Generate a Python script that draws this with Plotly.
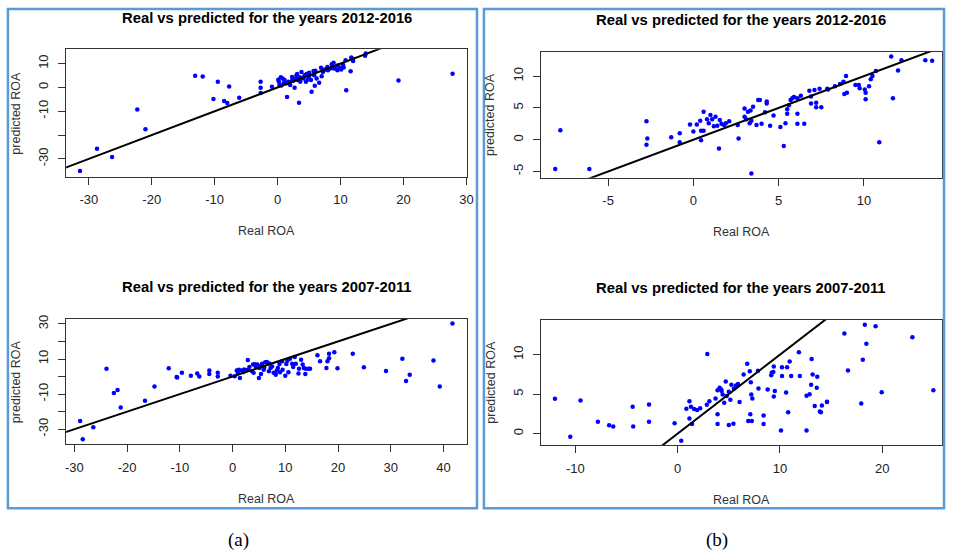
import plotly.graph_objects as go

# ---------------- data ----------------
# (a) top : Real vs predicted for the years 2012-2016
a1_real = [-31.4, -28.7, -26.3, -22.3, -21.0, -13.1, -11.9, -9.5, -10.2, -7.7, -8.5, -8.0, -6.1,
           -2.7, -2.7, -2.7, -0.9, 1.5, 3.4, 5.4, 10.9, 19.2, 27.8, 11.6,
           0.1, 0.3, 0.5, 0.8, 1.1, 1.4, 1.7, 2.0, 2.3, 2.7, 2.9, 3.0, 3.2, 3.4, 3.6, 3.8, 4.1,
           4.3, 4.5, 4.8, 5.0, 5.3, 5.7, 5.8, 5.9, 6.2, 6.6, 6.9, 7.0, 7.2, 7.5, 7.9, 8.3, 8.6,
           8.9, 9.1, 9.5, 9.9, 10.1, 10.4, 10.8, 12.0, 11.7, 13.9, 14.0, 9.5, 8.0, 5.0, 5.9, 2.3,
           0.2, 1.8, 0.6, 1.0, 3.9, 4.6, 6.0, 7.3, 8.8, 10.5, 11.9, 2.5, 3.1]
a1_pred = [-35.1, -25.7, -29.2, -9.3, -17.6, 4.9, 4.6, 2.4, -4.9, 0.4, -5.7, -6.5, -4.3,
           2.4, -0.1, -2.4, 0.3, -4.0, -6.4, -1.8, -1.25, 2.9, 5.7, 6.8,
           3.2, 1.0, 4.3, 3.75, 3.1, 1.7, 2.4, 1.0, 2.8, -0.1, 3.75, 5.1, 3.1, 4.4, 2.4, 6.5, 3.75,
           5.1, 2.4, 3.3, 4.7, 3.1, 6.9, 5.1, 0.7, 3.75, 1.9, 8.2, 4.7, 6.5, 7.5, 8.6, 7.9, 9.7,
           10.3, 7.9, 7.2, 8.2, 7.5, 9.4, 11.4, 11.1, 12.5, 13.3, 14.2, 9.2, 7.2, 6.1, 6.5, 4.4,
           2.4, 1.7, 0.8, 2.0, 4.0, 5.6, 7.0, 7.1, 8.0, 8.4, 12.0, 2.9, 5.6]

# (b) top : Real vs predicted for the years 2012-2016
b1_real = [-8.1, -7.8, -6.1, -2.75, -2.7, -2.75, -1.3, -0.8, -0.8, -0.2, 0.0, 0.2, 0.4, 0.45,
           0.45, 0.6, 0.6, 0.8, 0.9, 1.0, 1.1, 1.2, 1.3, 1.4, 1.5, 1.55, 1.65, 1.8, 1.9, 2.1,
           2.6, 2.65, 3.0, 3.0, 3.1, 3.2, 3.3, 3.35, 3.4, 3.4, 3.5, 3.7, 3.8, 3.9, 4.0, 4.2,
           4.3, 4.3, 4.5, 4.7, 5.1, 5.3, 5.4, 5.5, 5.5, 5.6, 5.7, 5.8, 5.9, 6.1, 6.1, 6.1, 6.3,
           6.5, 6.8, 6.9, 6.9, 7.1, 7.2, 7.2, 7.5, 7.4, 7.85, 7.9, 8.3, 8.6, 8.8, 8.95, 8.85,
           9.0, 9.5, 9.7, 9.75, 10.05, 10.1, 10.1, 10.3, 10.4, 10.5, 10.7, 10.9, 11.6, 11.7,
           12.0, 12.2, 13.6, 14.0]
b1_pred = [-4.6, 1.5, -4.6, 2.9, 0.2, -0.8, 0.4, 1.0, -0.4, 2.4, 1.3, 2.4, 3.0, 1.4,
           -0.1, 1.4, 4.4, 3.2, 2.6, 3.9, 3.2, 2.1, 3.6, 2.2, -1.4, 3.1, 2.5, 2.3, 2.6, 2.9,
           2.3, 0.2, 4.9, 3.6, 3.2, 4.4, 2.6, 4.6, 3.0, -5.3, 5.2, 2.3, 6.25, 6.25, 2.5, 4.3,
           5.7, 6.0, 2.2, 3.8, 2.0, -1.0, 2.6, 4.1, 4.8, 5.4, 6.25, 6.5, 6.7, 6.5, 4.1, 2.5, 6.9,
           2.5, 7.7, 5.7, 6.8, 7.8, 5.8, 5.1, 5.1, 8.0, 8.0, 7.9, 8.4, 8.75, 9.1, 10.0, 7.2,
           7.4, 8.6, 8.6, 8.1, 7.9, 7.4, 6.35, 8.4, 9.5, 10.0, 10.8, -0.4, 13.1, 6.5,
           10.9, 12.5, 12.5, 12.4]

# (a) bottom : Real vs predicted for the years 2007-2011
a2_real = [-28.9, -28.4, -26.4, -23.9, -22.5, -21.8, -21.2, -16.6, -14.8, -12.1, -10.6, -10.5,
           -9.6, -7.9, -6.7, -6.3, -4.4, -4.4, -2.8, -2.8, -0.4, 0.4, 0.8, 1.2, 1.4, 1.7, 2.0,
           2.9, 2.9, 3.7, 3.9, 4.0, 4.4, 4.7, 5.0, 5.1, 5.4, 5.6, 5.9, 6.2, 6.5, 6.9, 7.2, 7.5,
           7.8, 8.1, 8.2, 8.6, 8.9, 9.4, 9.5, 10.0, 10.2, 10.4, 10.6, 10.9, 11.3, 11.8, 12.0,
           12.5, 12.6, 13.0, 13.3, 13.5, 13.8, 13.9, 14.4, 14.7, 16.1, 16.6, 17.8, 18.0, 18.3,
           18.3, 19.3, 19.9, 22.8, 24.9, 29.1, 32.2, 32.9, 33.6, 38.1, 39.3, 41.7,
           1.0, 2.2, 3.2, 4.2, 5.3, 6.0, 7.0, 8.4, 9.0, 11.5]
a2_pred = [-25.3, -35.8, -28.9, 4.5, -9.4, -7.7, -17.6, -13.8, -5.7, 4.7, -0.2, -0.6,
           2.2, 0.4, 1.7, 0.0, 3.4, 1.5, 2.2, 0.0, 0.4, 0.2, 3.4, 3.9, -0.8, 3.4, 2.6,
           9.4, 3.9, 3.0, 6.8, 2.1, 5.8, 6.8, -0.8, 4.9, 1.5, 7.3, 3.9, 8.1, 8.3, 3.0, 4.9, 5.8,
           2.1, 1.7, 1.1, 4.9, 7.2, 8.7, 3.9, 0.5, 7.2, 9.0, 2.4, 10.2, 7.3, 11.1, 7.3,
           1.7, 4.5, 9.6, 6.8, 4.9, 1.5, 4.5, 4.5, 4.5, 12.2, 8.7, 4.9, 8.7, 10.4,
           13.0, 13.9, 4.7, 13.0, 5.3, 3.2, 10.2, -2.5, 1.1, 9.2, -5.7, 30.2,
           2.0, 4.0, 5.5, 7.0, 6.0, 5.0, 7.5, 3.5, 2.5, 5.5]

# (b) bottom : Real vs predicted for the years 2007-2011
b2_real = [-12.0, -10.5, -9.5, -7.8, -6.7, -6.3, -4.4, -4.35, -2.8, -2.8, -0.3, 0.35, 1.15,
           0.85, 1.3, 1.15, 1.4, 1.6, 1.9, 2.2, 2.9, 2.85, 3.1, 3.7, 3.9, 3.9, 3.9, 4.1, 4.25,
           4.3, 4.4, 4.55, 4.7, 4.8, 5.0, 5.0, 5.15, 5.25, 5.45, 5.5, 5.7, 5.9, 6.05, 6.45, 6.8,
           6.9, 7.05, 7.1, 7.15, 7.2, 7.25, 7.3, 7.85, 7.9, 8.4, 8.4, 8.8, 9.15, 9.2, 9.35, 9.4,
           9.4, 9.5, 10.1, 10.2, 10.2, 10.6, 10.7, 10.8, 10.95, 11.1, 11.85, 11.95, 12.6, 12.6,
           12.9, 13.1, 13.2, 13.05, 13.4, 13.6, 13.65, 13.9, 14.0, 14.1, 14.6, 14.6, 16.3,
           16.65, 17.95, 18.1, 18.3, 18.45, 19.35, 19.95, 22.95, 25.0]
b2_pred = [4.4, -0.4, 4.2, 1.5, 1.05, 0.9, 3.4, 0.9, 3.7, 1.5, 1.3, -0.9, 4.1,
           3.15, 3.4, 1.9, 1.2, 3.1, 3.0, 3.2, 10.1, 3.65, 4.1, 4.45, 5.5, 2.45, 1.2, 5.8, 5.6,
           5.4, 4.95, 3.9, 6.6, 4.75, 1.1, 5.3, 4.3, 6.2, 1.25, 5.7, 6.1, 6.3, 4.0, 7.5, 8.85,
           1.6, 7.9, 2.45, 6.5, 4.95, 1.6, 4.45, 7.95, 5.7, 2.3, 1.2, 5.6, 7.4, 7.7, 7.8, 8.5,
           4.7, 5.4, 0.4, 7.3, 8.4, 5.2, 8.4, 2.7, 9.15, 7.3, 10.3, 7.3, 0.4, 4.8,
           5.0, 9.45, 7.5, 6.2, 3.5, 5.8, 7.2, 2.8, 2.7, 3.55, 4.0, 4.05, 12.7,
           8.0, 3.8, 9.35, 13.8, 11.4, 13.6, 5.25, 12.2, 5.5]

titles = ["Real vs predicted for the years 2012-2016",
          "Real vs predicted for the years 2012-2016",
          "Real vs predicted for the years 2007-2011",
          "Real vs predicted for the years 2007-2011"]
x_label = "Real ROA"
y_label = "predicted ROA"
panel_labels = ["(a)", "(b)"]

x_ticks = [[-30, -20, -10, 0, 10, 20, 30], [-5, 0, 5, 10],
           [-30, -20, -10, 0, 10, 20, 30, 40], [-10, 0, 10, 20]]
y_ticks = [[-30, -20, -10, 0, 10], [-5, 0, 5, 10],
           [-30, -20, -10, 0, 10, 20, 30], [0, 5, 10]]
y_ticktext = [["-30", "", "-10", "0", "10"], ["-5", "0", "5", "10"],
              ["-30", "", "-10", "", "10", "", "30"], ["0", "5", "10"]]

# ---------------- layout helpers ----------------
W, H = 954, 554
def fx(px):
    return px / W
def fy(py):
    return 1 - py / H

# plot areas in pixels: (left, right, top, bottom)
areas = [(65.7, 470, 45.7, 174), (544.3, 949, 48.3, 175),
         (65.7, 470, 317.3, 443.3), (544.3, 949, 318.3, 444.3)]
x_ranges = [[-33.6, 30.1], [-8.95, 14.58], [-31.55, 44.47], [-13.39, 25.85]]
y_ranges = [[-37.5, 15.96], [-5.98, 13.8], [-38.5, 32.8], [-1.46, 14.4]]

series = [(a1_real, a1_pred), (b1_real, b1_pred), (a2_real, a2_pred), (b2_real, b2_pred)]

FONT = "Liberation Sans, Arial, sans-serif"
fig = go.Figure()
layout = dict(width=W, height=H, margin=dict(l=0, r=0, t=0, b=0),
              paper_bgcolor="white", plot_bgcolor="white", showlegend=False,
              font=dict(family=FONT, color="#222"))
annotations = []
shapes = []

for i, ((xs, ys), (l, r, t, b)) in enumerate(zip(series, areas)):
    sfx = "" if i == 0 else str(i + 1)
    xa, ya = "x" + sfx, "y" + sfx
    fig.add_trace(go.Scatter(x=xs, y=ys, mode="markers", xaxis=xa, yaxis=ya,
                             marker=dict(color="#0000FF", size=4.5, line=dict(width=0)),
                             cliponaxis=True, hoverinfo="x+y"))
    lo, hi = x_ranges[i]
    fig.add_trace(go.Scatter(x=[lo - 100, hi + 100], y=[lo - 100, hi + 100], mode="lines",
                             xaxis=xa, yaxis=ya, line=dict(color="black", width=2),
                             hoverinfo="skip"))
    axis_common = dict(showline=True, mirror=True, linecolor="#333", linewidth=1,
                       ticks="outside", ticklen=7, tickcolor="#333", tickwidth=1,
                       showgrid=False, zeroline=False,
                       tickfont=dict(family=FONT, size=13, color="#222"))
    layout["xaxis" + sfx] = dict(domain=[fx(l), fx(r)], range=x_ranges[i], anchor=ya,
                                 tickmode="array", tickvals=x_ticks[i],
                                 ticktext=[str(v) for v in x_ticks[i]],
                                 ticklabelstandoff=4, **axis_common)
    layout["yaxis" + sfx] = dict(domain=[fy(b), fy(t)], range=y_ranges[i], anchor=xa,
                                 tickmode="array", tickvals=y_ticks[i], ticktext=y_ticktext[i],
                                 tickangle=-90, ticklabelstandoff=5, **axis_common)
    cx = (l + r) / 2
    annotations.append(dict(text="<b>" + titles[i] + "</b>", x=fx(cx), y=fy(t - 32),
                            xref="paper", yref="paper", showarrow=False,
                            font=dict(family=FONT, size=14.8, color="black"),
                            xanchor="center", yanchor="middle"))
    annotations.append(dict(text=x_label, x=fx(cx), y=fy(b + 55), xref="paper", yref="paper",
                            showarrow=False, font=dict(family=FONT, size=12.5, color="#333"),
                            xanchor="center", yanchor="middle"))
    annotations.append(dict(text=y_label, x=fx(l - 51), y=fy((t + b) / 2), xref="paper",
                            yref="paper", showarrow=False, textangle=-90,
                            font=dict(family=FONT, size=12.5, color="#333"),
                            xanchor="center", yanchor="middle"))

# outer blue frames
for (x0, x1) in [(7, 480), (487, 951)]:
    shapes.append(dict(type="rect", xref="paper", yref="paper",
                       x0=fx(x0), x1=fx(x1), y0=fy(508), y1=fy(5),
                       line=dict(color="#5B9BD5", width=2.5), fillcolor="rgba(0,0,0,0)"))

for lab, cx in zip(panel_labels, [240, 722]):
    annotations.append(dict(text=lab, x=fx(cx), y=fy(540), xref="paper", yref="paper",
                            showarrow=False, xanchor="center", yanchor="middle",
                            font=dict(family="Liberation Serif, Times New Roman, serif",
                                      size=19, color="black")))

layout["annotations"] = annotations
layout["shapes"] = shapes
fig.update_layout(**layout)
fig.write_html("out.html")
